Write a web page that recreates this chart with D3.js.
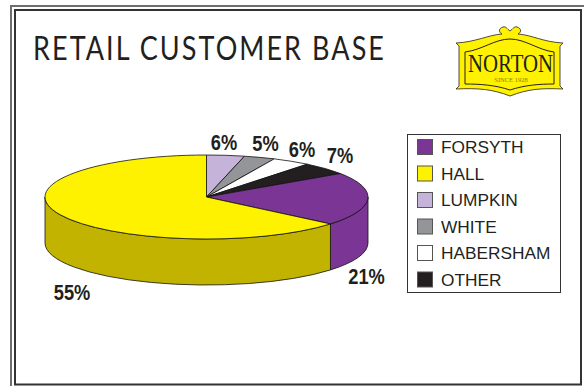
<!DOCTYPE html>
<html>
<head>
<meta charset="utf-8">
<script src="https://cdn.jsdelivr.net/npm/d3@7/dist/d3.min.js"></script>
<style>
  html, body { margin: 0; padding: 0; background: #fff; }
  svg { display: block; }
  text { fill: #231f20; }
</style>
</head>
<body>
<svg id="chart" width="584" height="386"></svg>
<script>
// Customer share by county, clockwise from twelve o'clock.
const counties = ["LUMPKIN", "WHITE", "HABERSHAM", "OTHER", "FORSYTH", "HALL"];
const shares = [6, 5, 6, 7, 21, 55];
const legendOrder = ["FORSYTH", "HALL", "LUMPKIN", "WHITE", "HABERSHAM", "OTHER"];

const topColors = ["#c6b3d9", "#939598", "#ffffff", "#231f20", "#7a3595", "#fff200"];
const wallColors = ["#a897b8", "#77787b", "#dddddd", "#111111", "#7a3595", "#c1b300"];
const labelPositions = [[224, 149.5], [265.5, 151], [302, 157], [340, 162.5], [366.5, 284], [72, 300]];

const svg = d3.select("#chart");
const ink = "#231f20";

// Double page frame.
svg.append("rect").attr("x", 11).attr("y", 6).attr("width", 580).attr("height", 390)
  .attr("fill", "none").attr("stroke", "#6d6e71").attr("stroke-width", 2);
svg.append("rect").attr("x", 15).attr("y", 10).attr("width", 566).attr("height", 374.5)
  .attr("fill", "none").attr("stroke", "#333").attr("stroke-width", 2);

svg.append("text").attr("x", 33).attr("y", 60)
  .attr("textLength", 353).attr("lengthAdjust", "spacingAndGlyphs")
  .style("font", "400 33px Lato").style("letter-spacing", "2.5px").text("RETAIL CUSTOMER BASE");

// Pie geometry.
const cx = 206.5, cy = 197, rx = 161.5, ry = 42, depth = 46;

// The disc is seen in perspective: near slices open up and far slices close,
// so each slice angle passes through this projective foreshortening.
const foreshorten = a => {
  if (a <= 0) return 0;
  if (a >= 2 * Math.PI - 1e-9) return 2 * Math.PI;
  const v = 1 / (1.558 / Math.tan(a / 2) + 0.221);
  return 2 * Math.atan(v);
};

const slices = d3.pie().sort(null)(shares).map((d, i) => ({
  i,
  startAngle: foreshorten(d.startAngle),
  endAngle: foreshorten(d.endAngle)
}));

const px = a => cx + rx * Math.sin(a);
const py = a => cy - ry * Math.cos(a);

// Side wall: only the front half of the rim is visible.
const pie = svg.append("g");
const wallOf = d => {
  const a0 = Math.max(d.startAngle, Math.PI / 2);
  const a1 = Math.min(d.endAngle, 3 * Math.PI / 2);
  if (a1 <= a0) return null;
  return `M${px(a0)},${py(a0)}A${rx},${ry} 0 0 1 ${px(a1)},${py(a1)}` +
         `L${px(a1)},${py(a1) + depth}A${rx},${ry} 0 0 0 ${px(a0)},${py(a0) + depth}Z`;
};
pie.selectAll("path.wall").data(slices.filter(wallOf)).join("path")
  .attr("class", "wall")
  .attr("d", wallOf)
  .attr("fill", d => wallColors[d.i])
  .attr("stroke", "#111").attr("stroke-width", 0.8).attr("stroke-linejoin", "round");

// Top face, built by d3.arc on a circle and squashed into the ellipse.
const arc = d3.arc().innerRadius(0).outerRadius(rx);
pie.append("g")
  .attr("transform", `translate(${cx},${cy}) scale(1,${ry / rx})`)
  .selectAll("path").data(slices).join("path")
  .attr("d", arc)
  .attr("fill", d => topColors[d.i])
  .attr("stroke", "#111").attr("stroke-width", 0.8)
  .attr("stroke-linejoin", "round")
  .attr("vector-effect", "non-scaling-stroke");

// Percentage labels, in bold type narrowed horizontally.
svg.append("g").selectAll("text").data(shares).join("text")
  .attr("transform", (d, i) => `translate(${labelPositions[i][0]},${labelPositions[i][1]}) scale(0.83,1)`)
  .attr("text-anchor", "middle")
  .style("font", "bold 22px 'Liberation Sans'")
  .text(d => d + "%");

// Legend.
const legendY = d3.scalePoint().domain(legendOrder).range([147, 279.5]);
svg.append("rect").attr("x", 407.5).attr("y", 134.5).attr("width", 153).attr("height", 158)
  .attr("fill", "#fff").attr("stroke", "#333").attr("stroke-width", 1);
const rows = svg.append("g").selectAll("g").data(legendOrder).join("g")
  .attr("transform", d => `translate(0,${legendY(d)})`);
rows.append("rect").attr("x", 417.5).attr("y", -7.5).attr("width", 15).attr("height", 15)
  .attr("fill", d => topColors[counties.indexOf(d)])
  .attr("stroke", "#555").attr("stroke-width", 1);
rows.append("text").attr("x", 441).attr("y", 6.2)
  .style("font", "17.3px 'Liberation Sans'").text(d => d);

// Brand badge.
const logo = svg.append("g");
logo.append("path")
  .attr("d", "M503,27 C499,28 498,32 502,34 C488,35 476,42 456,43 L459,46 L459,86 L456,89 " +
    "C478,88 492,89 510,96 C528,89 541,88 563,89 L560,86 L560,46 L563,43 " +
    "C543,42 532,35 518,34 C522,32 521,28 517,27 C514,26 513,29 510,31 C507,29 506,26 503,27 Z")
  .attr("fill", "#fff200").attr("stroke", ink).attr("stroke-width", 0.8);
logo.append("path")
  .attr("d", "M465,52 C482,50 495,39 510,39 C525,39 538,50 554,52 L554,84 " +
    "C540,84 525,85 510,90 C495,85 480,84 465,84 Z")
  .attr("fill", "#fff200").attr("stroke", ink).attr("stroke-width", 1);
logo.append("text").attr("x", 510.5).attr("y", 72).attr("text-anchor", "middle")
  .attr("textLength", 85).attr("lengthAdjust", "spacingAndGlyphs")
  .style("font", "26px 'Liberation Serif'").text("NORTON");
logo.append("text").attr("x", 511).attr("y", 82).attr("text-anchor", "middle")
  .style("font", "6.5px 'Liberation Serif'").style("fill", "#8a8200").text("SINCE 1928");
</script>
</body>
</html>
